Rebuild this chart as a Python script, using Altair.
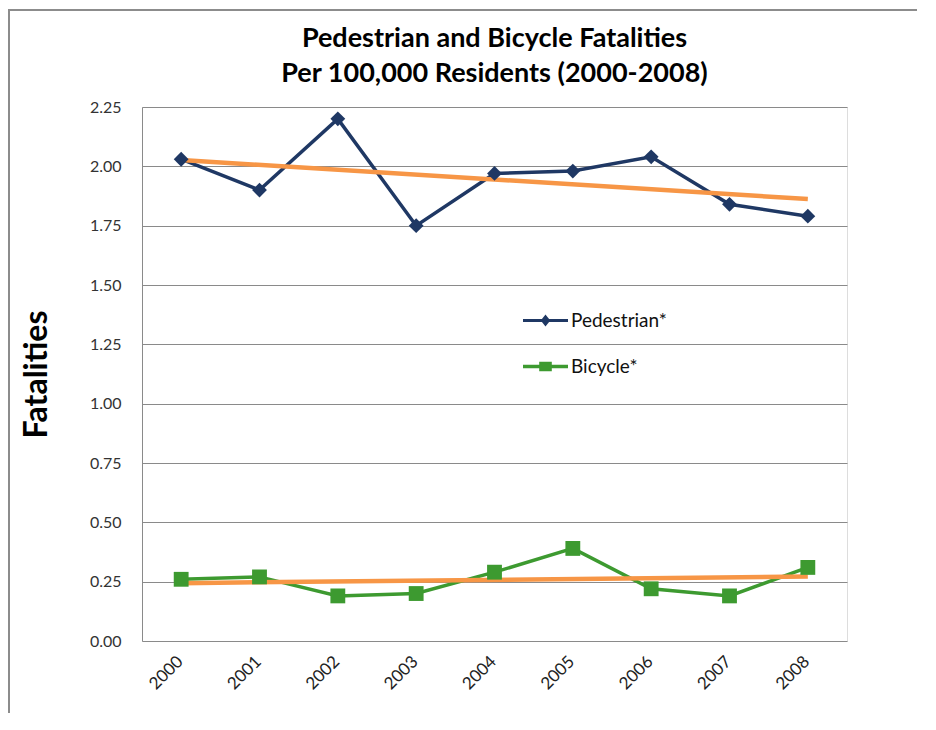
import altair as alt
import pandas as pd

years = [2000, 2001, 2002, 2003, 2004, 2005, 2006, 2007, 2008]
pedestrian = [2.03, 1.90, 2.20, 1.75, 1.97, 1.98, 2.04, 1.84, 1.79]
bicycle = [0.26, 0.27, 0.19, 0.20, 0.29, 0.39, 0.22, 0.19, 0.31]
series_names = ["Pedestrian*", "Bicycle*"]
series_colors = ["#1F3864", "#3D9A30"]
y_ticks = [0.0, 0.25, 0.5, 0.75, 1.0, 1.25, 1.5, 1.75, 2.0, 2.25]
title_lines = ["Pedestrian and Bicycle Fatalities", "Per 100,000 Residents (2000-2008)"]
y_title = "Fatalities"

legend_shapes = [
    "M-1,-0.07H1V0.07H-1Z M0,-0.27L0.21,0L0,0.27L-0.21,0Z",
    "M-1,-0.08H1V0.08H-1Z M-0.28,-0.21H0.28V0.21H-0.28Z",
]

df = pd.DataFrame({
    "Year": years + years,
    "Fatalities": pedestrian + bicycle,
    "Series": [series_names[0]] * len(years) + [series_names[1]] * len(years),
})

W, H = 705, 534
FONT = "Lato"

x_enc = alt.X(
    "Year:Q",
    scale=alt.Scale(domain=[1999.5, 2008.5], nice=False, zero=False),
    axis=alt.Axis(
        values=years, format="d", labelAngle=-45, grid=False, ticks=False,
        domain=False, labelFont=FONT, labelFontSize=17, labelColor="#222222",
        labelPadding=12, labelOffset=-7, title=None,
    ),
)
y_enc = alt.Y(
    "Fatalities:Q",
    scale=alt.Scale(domain=[0, 2.25], nice=False),
    axis=alt.Axis(
        values=y_ticks, format=".2f", grid=True, gridColor="#8a8a8a",
        gridWidth=1, ticks=False, domain=True, domainColor="#8a8a8a",
        labelFont=FONT, labelFontSize=16, labelColor="#333333", labelPadding=21,
        title=y_title, titleFont=FONT, titleFontSize=32, titleFontWeight="bold",
        titleColor="#000000", titleAngle=270, titleX=-106, titleY=H / 2,
        titleAlign="center", titleBaseline="middle",
    ),
)
is_ped = alt.datum.Series == series_names[0]
series_color = alt.condition(is_ped, alt.value(series_colors[0]), alt.value(series_colors[1]))

base = alt.Chart(df)

lines = base.mark_line(strokeWidth=3.5).encode(
    x=x_enc, y=y_enc, detail="Series:N", color=series_color,
)

markers = base.mark_point(filled=True, opacity=1, size=220).encode(
    x="Year:Q", y="Fatalities:Q", color=series_color,
    shape=alt.condition(is_ped, alt.value("diamond"), alt.value("square")),
)

trend = base.transform_regression(
    "Year", "Fatalities", groupby=["Series"]
).mark_line(color="#F79646", strokeWidth=4.5).encode(
    x="Year:Q", y="Fatalities:Q", detail="Series:N",
)

leg = alt.Legend(
    orient="none", legendX=381, legendY=191, title=None, padding=0,
    symbolSize=2025, symbolStrokeWidth=0,
    labelFont=FONT, labelFontSize=19, labelColor="#111111", labelOffset=3,
    rowPadding=13,
)
legend_layer = base.transform_filter("false").mark_point(filled=True, opacity=1).encode(
    x="Year:Q", y="Fatalities:Q",
    color=alt.Color("Series:N", scale=alt.Scale(domain=series_names, range=series_colors), legend=leg),
    shape=alt.Shape("Series:N", scale=alt.Scale(domain=series_names, range=legend_shapes), legend=leg),
)

frame_df = pd.DataFrame({"k": [0]})
left_border = alt.Chart(frame_df).mark_rule(color="#8c8c8c", strokeWidth=2).encode(
    x=alt.value(-133), y=alt.value(-97), y2=alt.value(H + 80),
)
top_border = alt.Chart(frame_df).mark_rule(color="#8c8c8c", strokeWidth=2).encode(
    x=alt.value(-134), x2=alt.value(W + 70), y=alt.value(-97),
)

chart = alt.layer(
    left_border, top_border, lines, trend, markers, legend_layer
).properties(
    width=W, height=H,
    title=alt.TitleParams(
        text=title_lines, font=FONT, fontSize=27, fontWeight="bold",
        color="#000000", anchor="middle", frame="group", lineHeight=35, offset=-79,
    ),
    autosize=alt.AutoSizeParams(type="none"),
    padding={"left": 134, "top": 99, "right": 70, "bottom": 72},
).configure_view(stroke=None).configure(background="white")

chart.save("out.html", embed_options={"renderer": "svg", "actions": False})
